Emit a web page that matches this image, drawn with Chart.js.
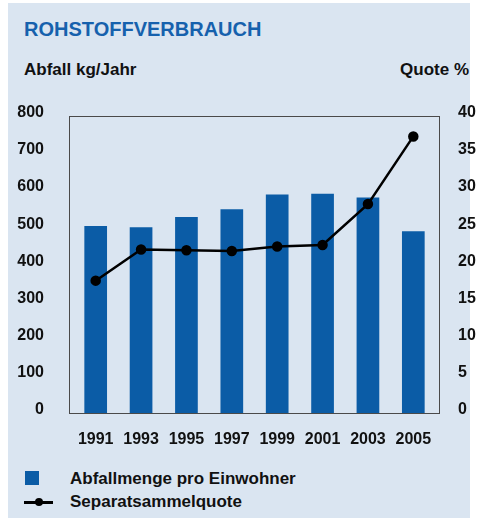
<!DOCTYPE html>
<html>
<head>
<meta charset="utf-8">
<script src="https://cdn.jsdelivr.net/npm/chart.js@4/dist/chart.umd.min.js"></script>
<style>
  body { margin: 0; background: #fff; font-family: "Liberation Sans", Arial, sans-serif; }
  #panel { position: absolute; left: 8px; top: 3px; width: 462px; height: 515px; background: #dae5f1; }
  .txt { position: absolute; font-weight: bold; color: #111; white-space: nowrap; line-height: 1; }
  #titel { left: 24px; top: 19px; font-size: 20px; color: #1661ad; }
  #achseLinks { left: 24px; top: 61px; font-size: 17px; }
  #achseRechts { right: 10px; top: 61px; font-size: 17px; }
  #wrap { position: absolute; left: 0; top: 85px; width: 479px; height: 375px; }
  .kasten { position: absolute; left: 25px; top: 471px; width: 14px; height: 14px; background: #0b5ca6; }
  .strich { position: absolute; left: 24px; top: 501px; width: 29px; height: 2.5px; background: #000; }
  .punkt { position: absolute; left: 35px; top: 498px; width: 8px; height: 8px; border-radius: 50%; background: #000; }
  #leg1 { left: 70px; top: 470px; font-size: 17px; }
  #leg2 { left: 70px; top: 493px; font-size: 17px; }
</style>
</head>
<body>
<div id="panel"></div>
<div class="txt" id="titel">ROHSTOFFVERBRAUCH</div>
<div class="txt" id="achseLinks">Abfall kg/Jahr</div>
<div class="txt" id="achseRechts">Quote %</div>
<div id="wrap"><canvas id="grafik"></canvas></div>
<div class="kasten"></div>
<div class="txt" id="leg1">Abfallmenge pro Einwohner</div>
<div class="strich"></div><div class="punkt"></div>
<div class="txt" id="leg2">Separatsammelquote</div>

<script>
// Daten
const jahre = ['1991', '1993', '1995', '1997', '1999', '2001', '2003', '2005'];
const abfallMenge = [503, 500, 527, 548, 588, 590, 580, 489];   // kg pro Einwohner
const sammelQuote = [17.8, 22.0, 21.9, 21.8, 22.4, 22.6, 28.1, 37.2]; // Prozent

const blau = '#0b5ca6';
const schrift = { family: '"Liberation Sans", Arial, sans-serif', size: 16, weight: 'bold' };

// Rahmen um die Zeichenflaeche (etwas breiter als die Kategorien)
const rahmen = {
    id: 'rahmen',
    afterDatasetsDraw(chart) {
        const a = chart.chartArea;
        const ctx = chart.ctx;
        ctx.save();
        ctx.strokeStyle = '#4a4a4a';
        ctx.lineWidth = 1;
        const l = Math.round(a.left) - 4, r = Math.round(a.right) + 3;
        ctx.strokeRect(l + 0.5, Math.round(a.top) + 0.5, r - l, Math.round(a.bottom - a.top));
        ctx.restore();
    }
};

new Chart(document.getElementById('grafik'), {
    data: {
        labels: jahre,
        datasets: [
            {
                type: 'line',
                label: 'Separatsammelquote',
                data: sammelQuote,
                yAxisID: 'yRechts',
                borderColor: '#000',
                backgroundColor: '#000',
                borderWidth: 2.5,
                pointRadius: 4,
                pointHoverRadius: 4,
                tension: 0,
                order: 0
            },
            {
                type: 'bar',
                label: 'Abfallmenge pro Einwohner',
                data: abfallMenge,
                yAxisID: 'yLinks',
                backgroundColor: blau,
                barPercentage: 0.5,
                categoryPercentage: 1,
                order: 1
            }
        ]
    },
    options: {
        responsive: true,
        maintainAspectRatio: false,
        animation: false,
        layout: { padding: { top: 17, left: 0, right: 0, bottom: 0 } },
        plugins: { legend: { display: false }, tooltip: { enabled: false } },
        scales: {
            x: {
                offset: true,
                grid: { display: false },
                border: { display: false },
                ticks: { color: '#111', font: schrift, padding: 9, maxRotation: 0 },
                afterFit(s) { s.height = 47; }
            },
            yLinks: {
                position: 'left',
                min: 0, max: 800,
                grid: { display: false },
                border: { display: false },
                ticks: { stepSize: 100, color: '#111', font: schrift, padding: 21, labelOffset: -3 },
                afterFit(s) { s.width = 73; }
            },
            yRechts: {
                position: 'right',
                min: 0, max: 40,
                grid: { display: false },
                border: { display: false },
                ticks: { stepSize: 5, color: '#111', font: schrift, padding: 14, labelOffset: -3 },
                afterFit(s) { s.width = 43; }
            }
        }
    },
    plugins: [rahmen]
});
</script>
</body>
</html>
